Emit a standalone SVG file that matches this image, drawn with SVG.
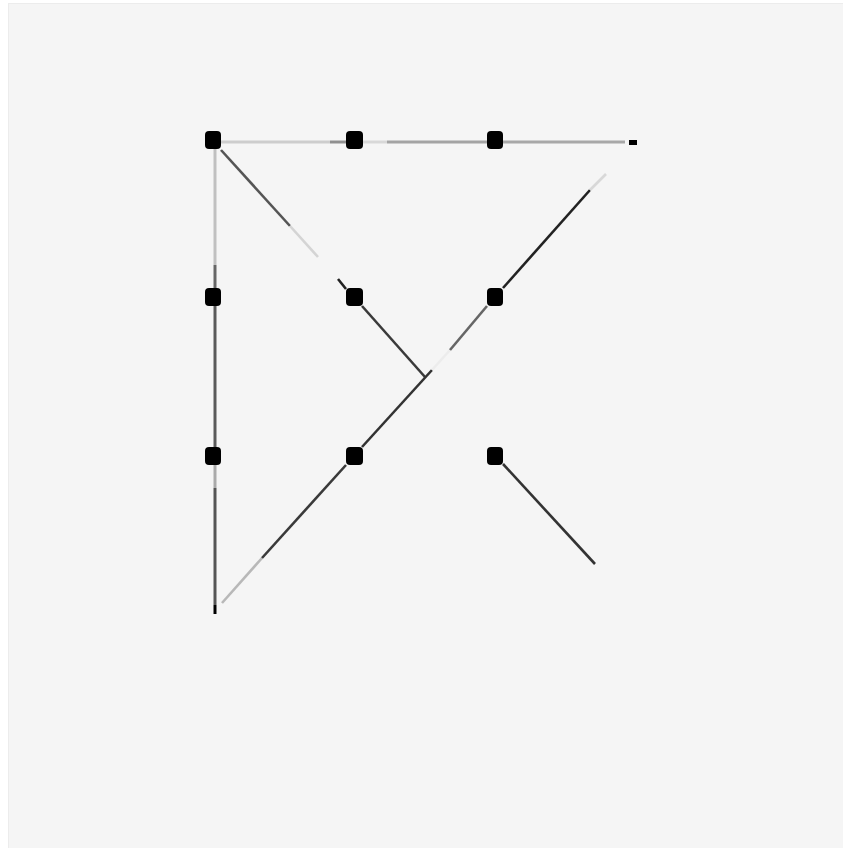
<svg xmlns="http://www.w3.org/2000/svg" width="843" height="848" viewBox="0 0 843 848">
<style>
.dot{fill:#000}
.ln{fill:none;stroke-width:3;stroke-linecap:butt}
.dg{fill:none;stroke-width:2.6;stroke-linecap:butt}
</style>
<rect x="0" y="0" width="843" height="848" fill="#ffffff"/>
<rect x="8" y="3" width="835" height="845" fill="#f5f5f5"/>
<line x1="8" y1="3.5" x2="843" y2="3.5" stroke="#ececec" stroke-width="1"/>
<line x1="8.5" y1="3" x2="8.5" y2="848" stroke="#ececec" stroke-width="1"/>
<g id="connectors">
  <!-- top horizontal -->
  <line class="ln" x1="221" y1="142" x2="330" y2="142" stroke="#cdcdcd"/>
  <line class="ln" x1="330" y1="142" x2="346" y2="142" stroke="#909090"/>
  <line class="ln" x1="362" y1="142" x2="387" y2="142" stroke="#d8d8d8"/>
  <line class="ln" x1="387" y1="142" x2="487" y2="142" stroke="#a4a4a4"/>
  <line class="ln" x1="503" y1="142" x2="625" y2="142" stroke="#a8a8a8"/>
  <rect x="629" y="140" width="8" height="5" fill="#000"/>
  <!-- left vertical -->
  <line class="ln" x1="215" y1="149" x2="215" y2="265" stroke="#c0c0c0"/>
  <line class="ln" x1="215" y1="265" x2="215" y2="289" stroke="#666"/>
  <line class="ln" x1="215" y1="305" x2="215" y2="448" stroke="#5a5a5a"/>
  <line class="ln" x1="215" y1="464" x2="215" y2="488" stroke="#aaa"/>
  <line class="ln" x1="215" y1="488" x2="215" y2="605" stroke="#555"/>
  <line class="ln" x1="215" y1="605" x2="215" y2="614" stroke="#000"/>
  <!-- diagonal from top-left dot -->
  <line class="dg" x1="221" y1="150" x2="290" y2="226" stroke="#555"/>
  <line class="dg" x1="290" y1="226" x2="318" y2="257" stroke="#d4d4d4"/>
  <line class="dg" x1="338" y1="279" x2="346" y2="289" stroke="#222"/>
  <line class="dg" x1="362" y1="306" x2="425" y2="377" stroke="#3a3a3a"/>
  <line class="dg" x1="503" y1="464" x2="595" y2="564" stroke="#333"/>
  <!-- long diagonal -->
  <line class="dg" x1="222" y1="603" x2="262" y2="558" stroke="#b8b8b8"/>
  <line class="dg" x1="262" y1="558" x2="346" y2="465" stroke="#3a3a3a"/>
  <line class="dg" x1="362" y1="447" x2="432" y2="370" stroke="#333"/>
  <line class="dg" x1="432" y1="370" x2="450" y2="350" stroke="#ececec"/>
  <line class="dg" x1="450" y1="350" x2="487" y2="306" stroke="#666"/>
  <line class="dg" x1="503" y1="288" x2="590" y2="190" stroke="#222"/>
  <line class="dg" x1="590" y1="190" x2="606" y2="174" stroke="#d8d8d8"/>
</g>
<g id="n1"><rect class="dot" x="205" y="131" width="16" height="18" rx="4"/></g>
<g id="n2"><rect class="dot" x="346" y="131" width="17" height="18" rx="4"/></g>
<g id="n3"><rect class="dot" x="487" y="131" width="16" height="18" rx="4"/></g>
<g id="n4"><rect class="dot" x="205" y="288" width="16" height="18" rx="4"/></g>
<g id="n5"><rect class="dot" x="346" y="288" width="17" height="18" rx="4"/></g>
<g id="n6"><rect class="dot" x="487" y="288" width="16" height="18" rx="4"/></g>
<g id="n7"><rect class="dot" x="205" y="447" width="16" height="18" rx="4"/></g>
<g id="n8"><rect class="dot" x="346" y="447" width="17" height="18" rx="4"/></g>
<g id="n9"><rect class="dot" x="487" y="447" width="16" height="18" rx="4"/></g>
</svg>
